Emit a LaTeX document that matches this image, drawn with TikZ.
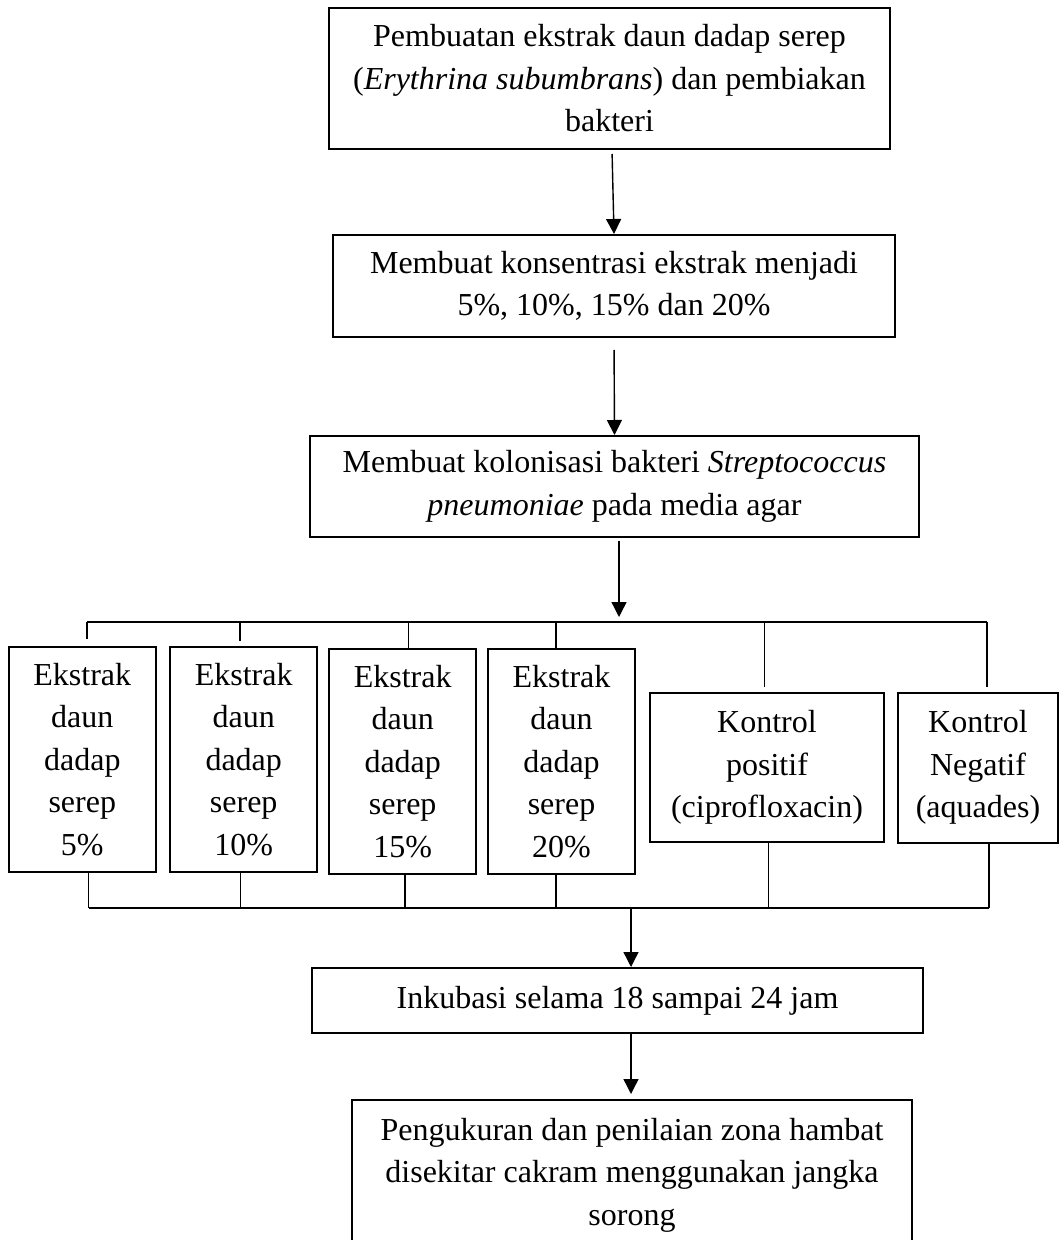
\documentclass[tikz,border=0pt]{standalone}
\usepackage{fontspec}
\setmainfont{Liberation Serif}
\usetikzlibrary{arrows.meta}
\begin{document}
\begin{tikzpicture}[x=0.5pt,y=-0.5pt,
  box/.style={draw,line width=1pt,inner sep=0pt,align=center,font=\fontsize{16}{21.25}\selectfont},
  smallbox/.style={box,minimum width=73.5pt,minimum height=112.5pt},
  conn/.style={line width=0.7pt},
  arr/.style={conn,-{Triangle[length=7.5pt,width=7.5pt]}}]
\useasboundingbox (0,0) rectangle (1060,1240);

\node[box,minimum width=280.5pt,minimum height=70.5pt] (b1) at (609.5,78.5)
  {Pembuatan ekstrak daun dadap serep\\(\textit{Erythrina subumbrans}) dan pembiakan\\bakteri};
\node[box,minimum width=281pt,minimum height=51pt] (b2) at (614,286)
  {Membuat konsentrasi ekstrak menjadi\\5\%, 10\%, 15\% dan 20\%};
\node[box,minimum width=304.5pt,minimum height=50.5pt] (b3) at (614.5,486.5)
  {Membuat kolonisasi bakteri \textit{Streptococcus}\\\textit{pneumoniae} pada media agar};

\node[smallbox] (bA) at (82.3,759.5) {Ekstrak\\daun\\dadap\\serep\\5\%};
\node[smallbox] (bB) at (243.7,759.5) {Ekstrak\\daun\\dadap\\serep\\10\%};
\node[smallbox] (bC) at (402.7,761.5) {Ekstrak\\daun\\dadap\\serep\\15\%};
\node[smallbox] (bD) at (561.5,761.5) {Ekstrak\\daun\\dadap\\serep\\20\%};
\node[box,minimum width=117pt,minimum height=74.5pt] (bE) at (767,767.5) {Kontrol\\positif\\(ciprofloxacin)};
\node[box,minimum width=80pt,minimum height=75pt] (bF) at (978,767.5) {Kontrol\\Negatif\\(aquades)};

\node[box,minimum width=305.5pt,minimum height=32.5pt] (bG) at (617.5,1000.5)
  {Inkubasi selama 18 sampai 24 jam};
\node[box,minimum width=280pt,minimum height=75pt] (bH) at (632,1175)
  {Pengukuran dan penilaian zona hambat\\disekitar cakram menggunakan jangka\\sorong};

% arrows between main steps
\draw[arr,shorten <=2pt] ([xshift=1.25pt]b1.south) -- (b2.north);
\draw[arr,shorten <=6pt] (b2.south) -- (b3.north);
\coordinate (a3) at (619,617);
\draw[arr,shorten <=1.5pt] (a3 |- b3.south) -- (a3);

% top distribution bus
\coordinate (tA) at (87,622);
\coordinate (tB) at (240,622);
\coordinate (tC) at (408.7,622);
\coordinate (tD) at (556,622);
\coordinate (tE) at (764.5,622);
\coordinate (tF) at (987,622);
\draw[conn] (tA) -- (tF);
\draw[conn,shorten >=3.5pt] (tA) -- (tA |- bA.north);
\draw[conn,shorten >=2.5pt] (tB) -- (tB |- bB.north);
\draw[conn] (tC) -- (tC |- bC.north);
\draw[conn] (tD) -- (tD |- bD.north);
\draw[conn,shorten >=2.5pt] (tE) -- (tE |- bE.north);
\draw[conn,shorten >=2.5pt] (tF) -- (tF |- bF.north);

% bottom collecting bus
\coordinate (uA) at (88.5,908);
\coordinate (uB) at (240.7,908);
\coordinate (uC) at (405,908);
\coordinate (uD) at (556,908);
\coordinate (uE) at (768.6,908);
\coordinate (uF) at (989,908);
\draw[conn] (uA) -- (uF);
\draw[conn] (uA |- bA.south) -- (uA);
\draw[conn] (uB |- bB.south) -- (uB);
\draw[conn] (uC |- bC.south) -- (uC);
\draw[conn] (uD |- bD.south) -- (uD);
\draw[conn] (uE |- bE.south) -- (uE);
\draw[conn] (uF |- bF.south) -- (uF);

\coordinate (m4) at (631,908);
\draw[arr] (m4) -- (m4 |- bG.north);
\coordinate (a5) at (631,1094);
\draw[arr] (a5 |- bG.south) -- (a5);
\end{tikzpicture}
\end{document}
